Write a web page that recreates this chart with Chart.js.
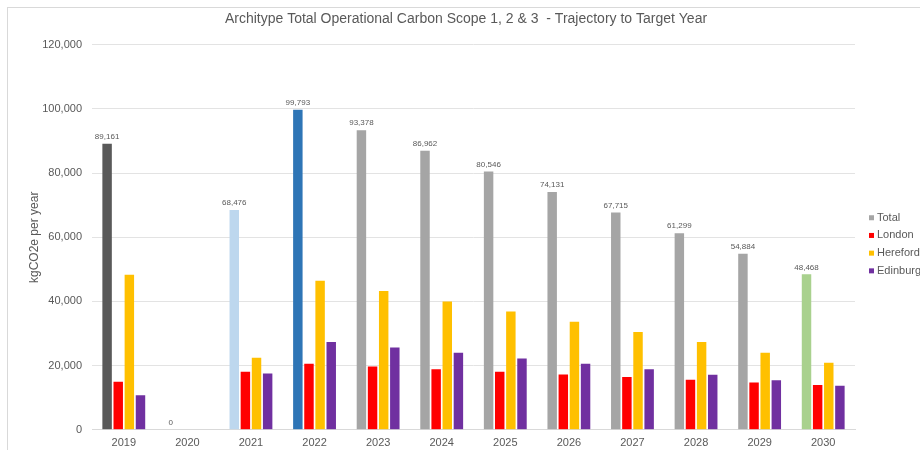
<!DOCTYPE html>
<html>
<head>
<meta charset="utf-8">
<script src="https://cdn.jsdelivr.net/npm/chart.js@4"></script>
<style>
  html, body { margin: 0; padding: 0; background: #fff; overflow: hidden; }
  #frame { position: absolute; left: 7px; top: 7px; width: 1000px; height: 500px; border: 1px solid #d9d9d9; border-right: none; border-bottom: none; }
  #wrap { position: absolute; left: 0; top: 0; width: 920px; height: 450px; }
</style>
</head>
<body>
<div id="frame"></div>
<div id="wrap"><canvas id="chart"></canvas></div>
<script>
// years on the x axis
var years = ['2019', '2020', '2021', '2022', '2023', '2024', '2025', '2026', '2027', '2028', '2029', '2030'];

// kgCO2e per year
var total     = [89161, 0, 68476, 99793, 93378, 86962, 80546, 74131, 67715, 61299, 54884, 48468];
var london    = [14950, 0, 18080, 20570, 19740, 18910, 18080, 17250, 16420, 15590, 14750, 13930];
var hereford  = [48300, 0, 22440, 46450, 43230, 40000, 36880, 33670, 30450, 27330, 24000, 20880];
var edinburgh = [10800, 0, 17550, 27330, 25660, 24000, 22230, 20570, 18910, 17140, 15480, 13720];

var seriesNames = ['Total', 'London', 'Hereford', 'Edinburgh'];
var seriesColors = ['#a5a5a5', '#ff0000', '#ffc000', '#7030a0'];
// total bar colour changes per year (baseline, covid, actual, forecast, target)
var totalColors = ['#595959', '#a5a5a5', '#bdd7ee', '#2e75b6', '#a5a5a5', '#a5a5a5', '#a5a5a5',
                   '#a5a5a5', '#a5a5a5', '#a5a5a5', '#a5a5a5', '#a9d18e'];

var FONT = "'Liberation Sans', Arial, sans-serif";
var GREY = '#595959';

// draws the value above each Total bar
var totalLabels = {
    id: 'totalLabels',
    afterDatasetsDraw: function(chart) {
        var ctx = chart.ctx;
        var meta = chart.getDatasetMeta(0);
        ctx.save();
        ctx.font = '8px ' + FONT;
        ctx.fillStyle = GREY;
        ctx.textAlign = 'center';
        ctx.textBaseline = 'bottom';
        meta.data.forEach(function(bar, i) {
            ctx.fillText(total[i].toLocaleString('en-US'), bar.x, bar.y - 3);
        });
        ctx.restore();
    }
};

// legend to the right of the plot, drawn in the space kept by the 'pad' axis
var sideLegend = {
    id: 'sideLegend',
    afterDraw: function(chart) {
        var ctx = chart.ctx;
        var area = chart.chartArea;
        var x = area.right + 14;
        var step = 17.7;
        var y0 = (area.top + area.bottom) / 2 + 7 - step * 1.5;
        ctx.save();
        ctx.font = '11px ' + FONT;
        ctx.textBaseline = 'middle';
        ctx.textAlign = 'left';
        seriesNames.forEach(function(n, i) {
            var y = y0 + i * step;
            ctx.fillStyle = seriesColors[i];
            ctx.fillRect(x, y - 2.5, 5, 5);
            ctx.fillStyle = GREY;
            ctx.fillText(n, x + 8, y);
        });
        ctx.restore();
    }
};

var ctx = document.getElementById('chart').getContext('2d');
var chart = new Chart(ctx, {
    type: 'bar',
    data: {
        labels: years,
        datasets: [
            { label: seriesNames[0], data: total, backgroundColor: totalColors },
            { label: seriesNames[1], data: london, backgroundColor: seriesColors[1] },
            { label: seriesNames[2], data: hereford, backgroundColor: seriesColors[2] },
            { label: seriesNames[3], data: edinburgh, backgroundColor: seriesColors[3] }
        ]
    },
    options: {
        responsive: true,
        maintainAspectRatio: false,
        animation: false,
        categoryPercentage: 0.7,
        barPercentage: 0.85,
        layout: { padding: { left: 27, right: 15, top: 0, bottom: -7 } },
        plugins: {
            title: {
                display: true,
                text: 'Architype Total Operational Carbon Scope 1, 2 & 3  - Trajectory to Target Year',
                color: GREY,
                font: { family: FONT, size: 14, weight: 'normal' },
                padding: { top: 11, bottom: 17 }
            },
            legend: { display: false },
            tooltip: { enabled: false }
        },
        scales: {
            x: {
                grid: { display: false, drawTicks: false, tickLength: 0 },
                border: { color: '#d9d9d9' },
                ticks: { color: GREY, font: { family: FONT, size: 11 }, padding: 7 }
            },
            y: {
                min: 0,
                max: 120000,
                afterFit: function(scale) { scale.width = 65; },
                ticks: { stepSize: 20000, color: GREY, font: { family: FONT, size: 11 }, padding: 10 },
                grid: { color: '#e3e3e3', drawTicks: false },
                border: { display: false },
                title: {
                    display: true,
                    text: 'kgCO2e per year',
                    color: GREY,
                    font: { family: FONT, size: 12 },
                    padding: { top: 0, bottom: 0 }
                }
            },
            pad: {
                type: 'linear',
                position: 'right',
                display: true,
                afterFit: function(scale) { scale.width = 50; },
                ticks: { display: false },
                grid: { display: false, drawTicks: false },
                border: { display: false }
            }
        }
    },
    plugins: [totalLabels, sideLegend]
});
</script>
</body>
</html>
